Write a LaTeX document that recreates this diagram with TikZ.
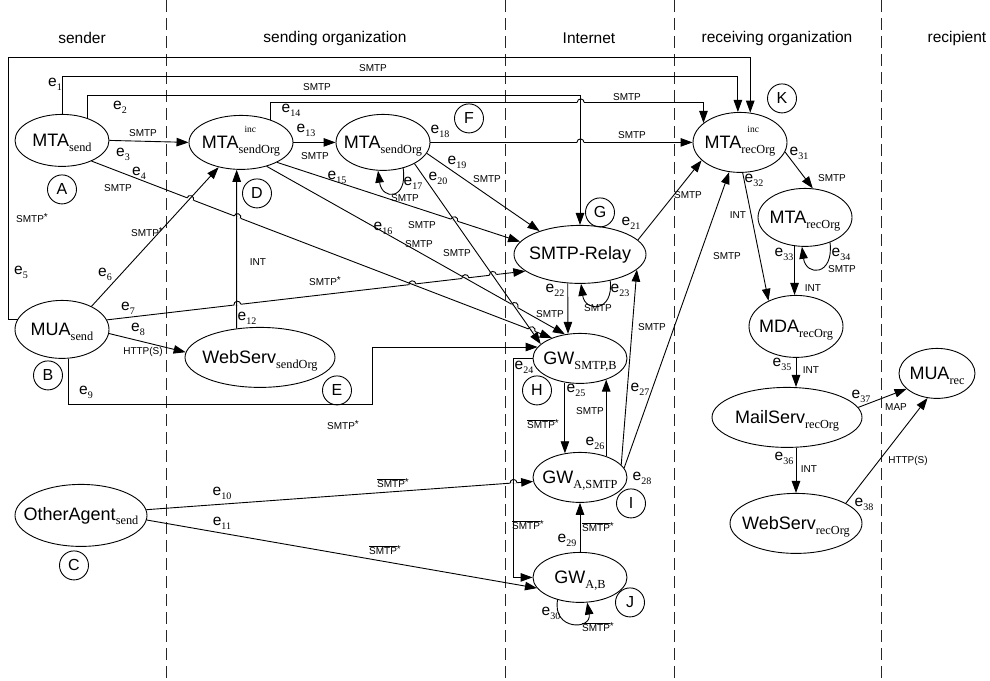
\documentclass[tikz,border=0pt]{standalone}
\usepackage{fontspec}
\setmainfont{Liberation Serif}
\setsansfont{Liberation Sans}
\usepackage{tikz}
\usetikzlibrary{arrows.meta,shapes.geometric,decorations.markings}

\newcommand\subf{\fontsize{12.3pt}{13pt}\selectfont\rmfamily}
\newcommand\supf{\fontsize{9.5pt}{10pt}\selectfont\rmfamily}
\newcommand\ag[2]{\makebox[0pt]{#1\smash{\raisebox{-4.5pt}{\subf #2}}}}
\newcommand\aginc[2]{\makebox[0pt]{#1\smash{\rlap{\hspace{6pt}\raisebox{16pt}{\supf inc}}\raisebox{-4.5pt}{\subf #2}}}}
\newcommand\eno[1]{e\raisebox{-4pt}{\fontsize{10pt}{10pt}\selectfont\rmfamily #1}}
\newcommand\smtpst{SMTP\raisebox{2pt}{*}}
\newcommand\smtpbar{$\overline{\mbox{SMTP}}$\raisebox{2pt}{*}}

\begin{document}
\begin{tikzpicture}[x=1pt,y=-1pt,line width=0.9pt,font=\sffamily,
  agent/.style={draw,ellipse,inner sep=0pt,font=\fontsize{18pt}{20pt}\selectfont\sffamily},
  tag/.style={draw,circle,inner sep=0pt,minimum size=29pt,font=\fontsize{16pt}{17pt}\selectfont\sffamily},
  head/.style={font=\fontsize{15.5pt}{17pt}\selectfont\sffamily},
  elab/.style={inner sep=0pt,font=\fontsize{15.5pt}{17pt}\selectfont\sffamily},
  plab/.style={inner sep=0pt,font=\fontsize{10pt}{11pt}\selectfont\sffamily},
  arr/.style={-{Triangle[length=12pt,width=8.5pt]}},
  colline/.style={line width=0.8pt,dash pattern=on 12pt off 6pt,black!85},
  hop/.style={postaction={decorate,decoration={markings,mark=at position #1 with {%
    \fill[white] (-3.6pt,-0.7pt) rectangle (3.6pt,0.7pt);
    \draw[-] (-3.5pt,0pt) arc[start angle=180,end angle=0,radius=3.5pt];}}}}]
\path[fill=white] (0,0) rectangle (990,680);

% columns
\draw[colline](166,0)--(166,680);
\draw[colline](505,0)--(505,680);
\draw[colline](674,0)--(674,680);
\draw[colline](881,0)--(881,680);
\node[head] (hSender) at (82,38) {sender};
\node[head] (hSendOrg) at (335,38) {sending organization};
\node[head] (hNet) at (589,38) {Internet};
\node[head] (hRecOrg) at (777,38) {receiving organization};
\node[head] (hRecip) at (957,38) {recipient};

% agents
\node[agent,minimum width=94pt,minimum height=52pt] (mtaSend) at (62,140) {\ag{MTA}{send}};
\node[tag] (tA) at (62,189) {A};
\node[agent,minimum width=94pt,minimum height=58pt] (muaSend) at (62,329) {\ag{MUA}{send}};
\node[tag] (tB) at (48,375) {B};
\node[agent,minimum width=132pt,minimum height=62pt] (otherAg) at (81,515) {\ag{OtherAgent}{send}};
\node[tag] (tC) at (74,565) {C};
\node[agent,minimum width=104pt,minimum height=54pt] (incSend) at (241,142) {\aginc{MTA}{sendOrg}};
\node[tag] (tD) at (257,193) {D};
\node[agent,minimum width=150pt,minimum height=60pt] (webSend) at (260,357) {\ag{WebServ}{sendOrg}};
\node[tag] (tE) at (337,390) {E};
\node[agent,minimum width=94pt,minimum height=56pt] (sendOrg) at (383,142) {\ag{MTA}{sendOrg}};
\node[tag] (tF) at (469,118) {F};
\node[agent,minimum width=132pt,minimum height=58pt] (relay) at (580,254) {\makebox[0pt]{SMTP-Relay}};
\node[tag] (tG) at (600,212) {G};
\node[agent,minimum width=94pt,minimum height=50pt] (gwSB) at (580,358) {\ag{GW}{SMTP,B}};
\node[tag] (tH) at (537,390) {H};
\node[agent,minimum width=94pt,minimum height=50pt] (gwAS) at (580,477) {\ag{GW}{A,SMTP}};
\node[tag] (tI) at (631,503) {I};
\node[agent,minimum width=94pt,minimum height=50pt] (gwAB) at (580,577) {\ag{GW}{A,B}};
\node[tag] (tJ) at (630,602) {J};
\node[agent,minimum width=94pt,minimum height=60pt] (incRec) at (740,142) {\aginc{MTA}{recOrg}};
\node[tag] (tK) at (782,98) {K};
\node[agent,minimum width=94pt,minimum height=58pt] (mtaRec) at (805,217) {\ag{MTA}{recOrg}};
\node[agent,minimum width=94pt,minimum height=62pt] (mda) at (796,326) {\ag{MDA}{recOrg}};
\node[agent,minimum width=150pt,minimum height=60pt] (mailServ) at (787,417) {\ag{MailServ}{recOrg}};
\node[agent,minimum width=132pt,minimum height=60pt] (webRec) at (796,523) {\ag{WebServ}{recOrg}};
\node[agent,minimum width=76pt,minimum height=50pt] (muaRec) at (937,373) {\ag{MUA}{rec}};

% rails for the long connectors
\coordinate (loopL) at (8,57);
\coordinate (railB) at (0,76);
\coordinate (railC) at (0,95);
\coordinate (railD) at (0,102);
\coordinate (e9bend) at (372,404);
\coordinate (busX) at (513,0);

% connectors with line jumps first, the ones they jump over afterwards
\draw[arr,hop=131.4pt,hop=307.6pt,hop=360.9pt,hop=388.6pt](muaSend.12)--(relay.197);
\draw[arr,hop=105.7pt,hop=156.2pt,hop=471.5pt](mtaSend.-35)--(gwSB.144);
\draw[arr,hop=284.6pt](incSend.-43)--(gwSB.122);
\draw[arr,hop=186.5pt](incSend.-29)--(relay.168);
\draw[arr,hop=327.7pt](incSend.38)--(incSend.38 |- railD)-|(incRec.152);
\draw[arr,hop=150pt](sendOrg.east)--(incRec.west);
\draw[arr,hop=368.2pt](otherAg.5)--(gwAS.185);

\draw[arr](mtaSend.north)--(mtaSend.north |- railB)-|(incRec.94);
\draw[arr](mtaSend.41)--(mtaSend.41 |- railC)-|(relay.north);
\draw[arr](mtaSend.east)--(incSend.west);
\draw[arr](muaSend.167)-|(loopL)-|(incRec.71);
\draw[arr](muaSend.38)--(incSend.228);
\draw[arr](muaSend.-5)--(webSend.176);
\draw[arr](muaSend.-78)|-(e9bend)|-(gwSB.165);
\draw[arr](otherAg.-4)--(gwAB.194);
\draw[arr](webSend.129)--(incSend.261);
\draw[arr](incSend.east)--(sendOrg.west);
\draw[arr](sendOrg.-52)..controls(408,200)and(382,200)..(sendOrg.-100);
\draw[arr](sendOrg.-14)--(relay.150);
\draw[arr](sendOrg.-34)--(gwSB.160);
\draw[arr](relay.14)--(incRec.205);
\draw[arr](relay.247)--(gwSB.116);
\draw[arr](relay.-41)..controls(614,312)and(585,312)..(relay.-88);
\draw[arr](gwSB.west)--(gwSB.west -| busX)|-(gwAB.west);
\draw[arr](gwSB.238)--(gwAS.122);
\draw[arr](gwAS.39)--(gwSB.-39);
\draw[arr](gwAS.17)--(relay.-15);
\draw[arr](gwAS.12)--(incRec.250);
\draw[arr](gwAB.north)--(gwAS.south);
\draw[arr](gwAB.225)..controls(552,630)and(592,630)..(gwAB.-74);
\draw[arr](incRec.-12)--(mtaRec.75);
\draw[arr](incRec.-85)--(mda.137);
\draw[arr](mtaRec.250)--(mtaRec.250 |- mda.north);
\draw[arr](mtaRec.-45)..controls(834,276)and(806,276)..(mtaRec.-96);
\draw[arr](mda.south)--(mda.south |- mailServ.north);
\draw[arr](mailServ.south -| webRec.north)--(webRec.north);
\draw[arr](mailServ.8)--(muaRec.207);
\draw[arr](webRec.22)--(muaRec.249);

% edge numbers
\node[elab] (e1) at (55,84) {\eno{1}};
\node[elab] (e2) at (120,107) {\eno{2}};
\node[elab] (e3) at (123,154) {\eno{3}};
\node[elab] (e4) at (139,173) {\eno{4}};
\node[elab] (e5) at (21,272) {\eno{5}};
\node[elab] (e6) at (105,274) {\eno{6}};
\node[elab] (e7) at (128,308) {\eno{7}};
\node[elab] (e8) at (138,329) {\eno{8}};
\node[elab] (e9) at (86,392) {\eno{9}};
\node[elab] (e10) at (222,493) {\eno{10}};
\node[elab] (e11) at (222,523) {\eno{11}};
\node[elab] (e12) at (247,318) {\eno{12}};
\node[elab] (e13) at (306,130) {\eno{13}};
\node[elab] (e14) at (291,110) {\eno{14}};
\node[elab] (e15) at (337,177) {\eno{15}};
\node[elab] (e16) at (383,228) {\eno{16}};
\node[elab] (e17) at (413,183) {\eno{17}};
\node[elab] (e18) at (440,131) {\eno{18}};
\node[elab] (e19) at (457,162) {\eno{19}};
\node[elab] (e20) at (438,178) {\eno{20}};
\node[elab] (e21) at (631,223) {\eno{21}};
\node[elab] (e22) at (555,290) {\eno{22}};
\node[elab] (e23) at (620,290) {\eno{23}};
\node[elab] (e24) at (524,367) {\eno{24}};
\node[elab] (e25) at (576,390) {\eno{25}};
\node[elab] (e26) at (595,443) {\eno{26}};
\node[elab] (e27) at (640,389) {\eno{27}};
\node[elab] (e28) at (642,478) {\eno{28}};
\node[elab] (e29) at (567,540) {\eno{29}};
\node[elab] (e30) at (551,613) {\eno{30}};
\node[elab] (e31) at (799,153) {\eno{31}};
\node[elab] (e32) at (754,180) {\eno{32}};
\node[elab] (e33) at (784,254) {\eno{33}};
\node[elab] (e34) at (841,254) {\eno{34}};
\node[elab] (e35) at (782,364) {\eno{35}};
\node[elab] (e36) at (784,458) {\eno{36}};
\node[elab] (e37) at (861,396) {\eno{37}};
\node[elab] (e38) at (864,504) {\eno{38}};

% protocols
\node[plab] (p1) at (373,68) {SMTP};
\node[plab] (p2) at (317,87) {SMTP};
\node[plab] (p3) at (143,133) {SMTP};
\node[plab] (p4) at (118,188) {SMTP};
\node[plab] (p5) at (32,218) {\smtpst};
\node[plab] (p6) at (147,232) {\smtpst};
\node[plab] (p7) at (325,281) {\smtpst};
\node[plab] (p8) at (143,352) {HTTP(S)};
\node[plab] (p9) at (343,425) {\smtpst};
\node[plab] (p10) at (393,483) {\smtpbar};
\node[plab] (p11) at (385,550) {\smtpbar};
\node[plab] (p12) at (258,262) {INT};
\node[plab] (p13) at (315,156) {SMTP};
\node[plab] (p14) at (627,97) {SMTP};
\node[plab] (p15) at (422,225) {SMTP};
\node[plab] (p16) at (419,244) {SMTP};
\node[plab] (p17) at (405,198) {SMTP};
\node[plab] (p18) at (632,135) {SMTP};
\node[plab] (p19) at (487,179) {SMTP};
\node[plab] (p20) at (457,253) {SMTP};
\node[plab] (p21) at (688,195) {SMTP};
\node[plab] (p22) at (550,314) {SMTP};
\node[plab] (p23) at (598,308) {SMTP};
\node[plab] (p24) at (528,525) {\smtpbar};
\node[plab] (p25) at (543,424) {\smtpbar};
\node[plab] (p26) at (590,411) {SMTP};
\node[plab] (p27) at (652,327) {SMTP};
\node[plab] (p28) at (727,256) {SMTP};
\node[plab] (p29) at (598,527) {\smtpbar};
\node[plab] (p30) at (598,627) {\smtpbar};
\node[plab] (p31) at (832,178) {SMTP};
\node[plab] (p32) at (738,215) {INT};
\node[plab] (p33) at (813,288) {INT};
\node[plab] (p34) at (842,269) {SMTP};
\node[plab] (p35) at (811,370) {INT};
\node[plab] (p36) at (809,469) {INT};
\node[plab] (p37) at (896,407) {MAP};
\node[plab] (p38) at (908,461) {HTTP(S)};
\end{tikzpicture}
\end{document}
